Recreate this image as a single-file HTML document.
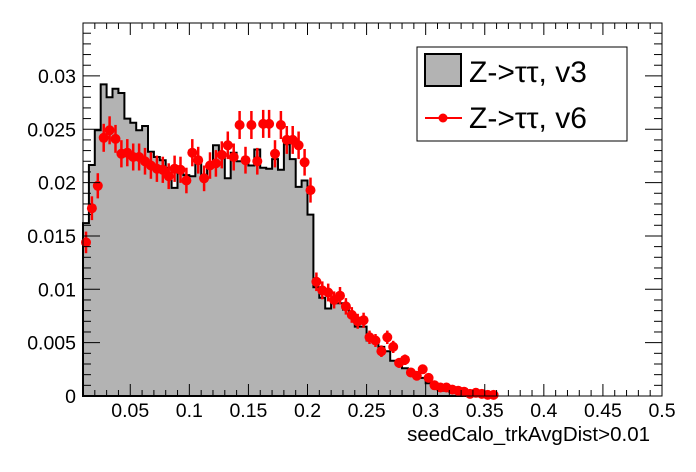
<!DOCTYPE html>
<html><head><meta charset="utf-8"><style>
html,body{margin:0;padding:0;background:#fff;}
svg{display:block;font-family:"Liberation Sans",sans-serif;}
</style></head><body>
<svg id="s" width="696" height="472" xmlns="http://www.w3.org/2000/svg"></svg>
<script>
const L=83,R=662,T=23,B=396;
const X=v=>L+(v-0.01)*(R-L)/0.49;
const Y=v=>B-v*10670;
const h=[0.0162,0.02165,0.0249,0.0292,0.0280,0.0288,0.0284,0.0260,0.0256,0.0249,0.0253,0.0229,0.0224,0.0221,0.0214,0.0195,0.0209,0.0207,0.0206,0.0221,0.0207,0.0216,0.0235,0.0228,0.0204,0.0228,0.0220,0.0220,0.0216,0.0231,0.0214,0.0213,0.0222,0.0212,0.0236,0.0222,0.0196,0.0202,0.0170,
0.0102,0.0092,0.0082,0.0088,0.0087,0.0081,0.0074,0.0065,0.0065,0.0052,0.0051,0.0046,0.0042,0.0033,0.0031,0.0026,0.0023,0.0020,0.0017,0.0012,0.0009,0.0007,0.0005,0.0004,0.0003,0.0002,0.00015,0.0001,0.00008,0.00005,0.00003];
const p=[0.0144,0.0176,0.0197,0.0242,0.0249,0.0241,0.0227,0.0228,0.0224,0.0224,0.0220,0.0216,0.0213,0.0212,0.0206,0.0213,0.0212,0.0202,0.0228,0.0221,0.0204,0.0216,0.0218,0.0226,0.0235,0.0224,0.0254,0.0221,0.0254,0.0220,0.0255,0.0255,0.0227,0.0254,0.0240,0.0240,0.0235,0.0219,0.0193,
0.0107,0.0099,0.0097,0.0090,0.0094,0.0084,0.0076,0.0070,0.0071,0.0055,0.0052,0.0042,0.0055,0.0046,0.0031,0.0034,0.0022,0.0019,0.0025,0.0017,0.0010,0.0008,0.0008,0.0006,0.0005,0.0004,0.0002,0.0003,0.0002,0.0001,0.0001];
let s='';
let d='M'+L+' '+B;
h.forEach((v,i)=>{const x0=X(0.01+i*0.005),x1=X(0.015+i*0.005);d+=' L'+x0.toFixed(1)+' '+Y(v).toFixed(1)+' L'+x1.toFixed(1)+' '+Y(v).toFixed(1);});
const xe=X(0.01+h.length*0.005);d+=' L'+xe.toFixed(1)+' '+B+' Z';
s+='<path d="'+d+'" fill="#b3b3b3" stroke="#000" stroke-width="2"/>';
p.forEach((v,i)=>{const x=X(0.0125+i*0.005),y=Y(v);const e=Math.min(14,Math.max(3,Math.sqrt(v)*90));
s+='<line x1="'+x.toFixed(1)+'" x2="'+x.toFixed(1)+'" y1="'+(y-e).toFixed(1)+'" y2="'+(y+e).toFixed(1)+'" stroke="#f00" stroke-width="2.5"/>';
s+='<circle cx="'+x.toFixed(1)+'" cy="'+y.toFixed(1)+'" r="5" fill="#f00"/>';});
s+='<rect x="'+L+'" y="'+T+'" width="'+(R-L)+'" height="'+(B-T)+'" fill="none" stroke="#000" stroke-width="1"/>';
for(let k=1;k<=50;k++){const v=k*0.01;const x=X(v);const maj=(k%5==0);const len=maj?12:6;
s+='<line x1="'+x+'" x2="'+x+'" y1="'+B+'" y2="'+(B-len)+'" stroke="#000"/>';
s+='<line x1="'+x+'" x2="'+x+'" y1="'+T+'" y2="'+(T+len)+'" stroke="#000"/>';
if(maj){s+='<text x="'+x+'" y="417" font-size="19.5" text-anchor="middle">'+(+(v.toFixed(2)))+'</text>';}}
for(let k=0;k<=34;k++){const v=k*0.001;const y=Y(v);const maj=(k%5==0);const len=maj?17:8;
s+='<line x1="'+L+'" x2="'+(L+len)+'" y1="'+y+'" y2="'+y+'" stroke="#000"/>';
s+='<line x1="'+R+'" x2="'+(R-len)+'" y1="'+y+'" y2="'+y+'" stroke="#000"/>';
if(maj){s+='<text x="76" y="'+(y+7)+'" font-size="19.5" text-anchor="end">'+(k==0?'0':+(v.toFixed(3)))+'</text>';}}
s+='<text x="650" y="441" font-size="20.5" text-anchor="end">seedCalo_trkAvgDist&gt;0.01</text>';
s+='<rect x="417" y="47" width="210" height="94" fill="#fff" stroke="#000"/>';
s+='<rect x="425" y="54" width="36" height="32" fill="#b3b3b3" stroke="#000" stroke-width="2"/>';
s+='<text x="469" y="82" font-size="30">Z-&gt;ττ, v3</text>';
s+='<line x1="425" x2="462" y1="118" y2="118" stroke="#f00" stroke-width="2"/><circle cx="443" cy="118" r="4.5" fill="#f00"/>';
s+='<text x="469" y="128" font-size="30">Z-&gt;ττ, v6</text>';
document.getElementById('s').innerHTML=s;
</script>
</body></html>
